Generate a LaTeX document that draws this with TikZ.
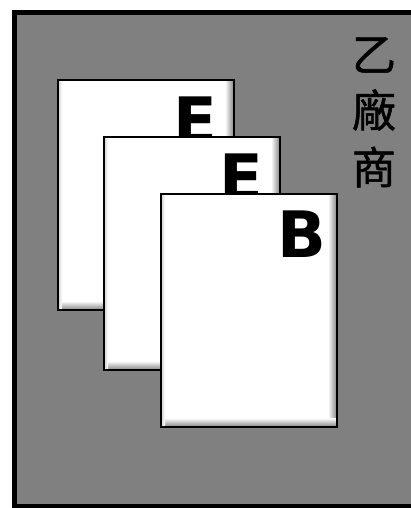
\documentclass[tikz,border=0pt]{standalone}
\usepackage{fontspec}
\setmainfont{DejaVu Sans}
\newfontfamily\cjkfont[FakeBold=1.2]{Noto Sans CJK TC}
\begin{document}
\begin{tikzpicture}[x=1pt,y=-1pt,
  card/.style={draw=black,line width=1.6pt,fill=white,minimum width=176pt,minimum height=232pt,inner sep=0pt,outer sep=0pt},
  letter/.style={font=\fontsize{64}{64}\selectfont\bfseries,inner sep=0pt,anchor=base east},
  hanzi/.style={font=\cjkfont\fontsize{44}{44}\selectfont,inner sep=0pt}]
\useasboundingbox (0,0) rectangle (411,508);
\clip (0,0) rectangle (411,508);
\fill[white] (0,0) rectangle (411,508);
\node[draw=black,line width=5pt,fill=black!50,minimum width=410pt,minimum height=494pt,inner sep=0pt,anchor=north west] (frame) at (12,10) {};
\foreach \n/\x/\y/\h/\L/\dx in {c1/58/80/230/E/-17,c2/104/137/233/E/-17,c3/161/194/233/B/-11}{
  \node[card,anchor=north west,minimum height=\h pt] (\n) at (\x,\y) {};
  \shade[left color=white,right color=black!45] ([xshift=-9pt,yshift=-1pt]\n.north east) rectangle ([xshift=-0.8pt,yshift=1pt]\n.south east);
  \shade[top color=white,bottom color=black!45] ([xshift=1pt,yshift=9pt]\n.south west) rectangle ([xshift=-0.8pt,yshift=0.8pt]\n.south east);
  \shade[left color=black!15,right color=white] ([xshift=0.8pt,yshift=-1pt]\n.north west) rectangle ([xshift=4pt,yshift=1pt]\n.south west);
  \draw[black,line width=1.6pt] (\n.north west) rectangle (\n.south east);
  \node[letter] (L\n) at ([xshift=\dx pt,yshift=-63pt]\n.north east) {\L};
}
\node[hanzi] (h1) at (374,55) {乙};
\node[hanzi] (h2) at (374,110) {廠};
\node[hanzi] (h3) at (374,167) {商};
\end{tikzpicture}
\end{document}
